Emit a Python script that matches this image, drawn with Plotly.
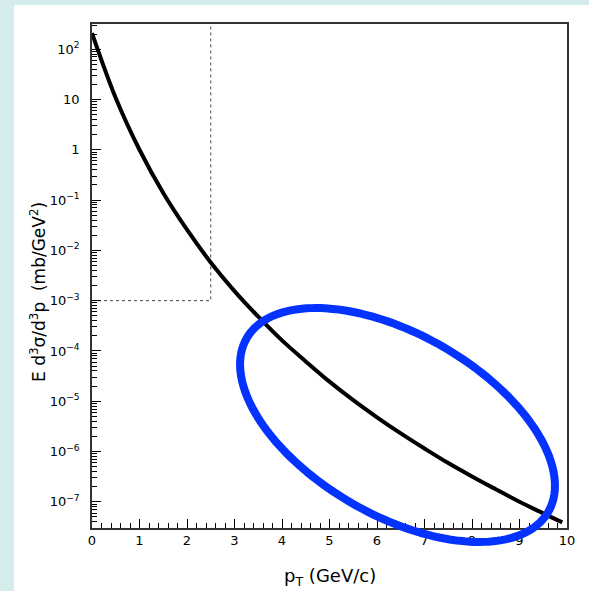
import numpy as np
import plotly.graph_objects as go

# ---- data ----
pt = [0.0, 0.5, 1.0, 1.5, 2.0, 2.5, 3.0, 3.5, 4.0, 4.5, 5.0, 5.5, 6.0,
      6.5, 7.0, 7.5, 8.0, 8.5, 9.0, 9.5, 9.9]
sigma = [209, 10.7, 1.0, 0.138, 0.0257, 0.00575, 0.00155, 4.8e-4, 1.62e-4,
         6.2e-5, 2.45e-5, 1.05e-5, 4.8e-6, 2.3e-6, 1.15e-6, 5.9e-7, 3.2e-7,
         1.78e-7, 1.0e-7, 5.9e-8, 3.9e-8]

cut_pt = 2.5
cut_sigma = 1e-3

ytick_vals = [1e2, 1e1, 1, 1e-1, 1e-2, 1e-3, 1e-4, 1e-5, 1e-6, 1e-7]
ytick_text = ["10<sup>2</sup>", "10", "1", "10<sup>−1</sup>", "10<sup>−2</sup>",
              "10<sup>−3</sup>", "10<sup>−4</sup>", "10<sup>−5</sup>",
              "10<sup>−6</sup>", "10<sup>−7</sup>"]
x_title = "p<sub>T</sub> (GeV/c)"
y_title = "E d<sup>3</sup>σ/d<sup>3</sup>p  (mb/GeV<sup>2</sup>)"

# ---- layout geometry (pixels) ----
W, H = 589, 591
L, R, T, B = 92, 22, 24, 63
PW, PH = W - L - R, H - T - B
Y_LOG_RANGE = [-7.52, 2.5]
FONT = "DejaVu Sans"

def px2paper(x, y):
    return (x - L) / PW, (H - B - y) / PH

fig = go.Figure()

# cut region (dotted)
fig.add_trace(go.Scatter(
    x=[0, cut_pt, cut_pt], y=[cut_sigma, cut_sigma, 10 ** Y_LOG_RANGE[1]],
    mode="lines", line=dict(color="#444444", width=1, dash="dot"),
    hoverinfo="skip", showlegend=False))

# spectrum curve
fig.add_trace(go.Scatter(
    x=pt, y=sigma, mode="lines", line=dict(color="black", width=4, shape="spline"),
    showlegend=False))

# blue highlight ellipse (pixel geometry -> paper coords)
cx, cy, a, b, phi = 397.5, 425.0, 174.0, 90.5, np.deg2rad(29.9)
t = np.linspace(0, 2 * np.pi, 181)
ex = cx + a * np.cos(t) * np.cos(phi) - b * np.sin(t) * np.sin(phi)
ey = cy + a * np.cos(t) * np.sin(phi) + b * np.sin(t) * np.cos(phi)
pts = [px2paper(x, y) for x, y in zip(ex, ey)]
path = "M " + " L ".join(f"{x:.5f},{y:.5f}" for x, y in pts) + " Z"

# white panel
p0 = px2paper(14, H)
p1 = px2paper(W, 5)
fig.add_shape(type="rect", xref="paper", yref="paper",
              x0=p0[0], y0=p0[1], x1=p1[0] + 0.05, y1=p1[1],
              fillcolor="white", line=dict(width=0), layer="below")
fig.add_shape(type="path", xref="paper", yref="paper", path=path,
              line=dict(color="#0433ff", width=8), layer="above")

# titles
tx, ty = px2paper(330, 577)
fig.add_annotation(xref="paper", yref="paper", x=tx, y=ty, text=x_title,
                   showarrow=False, xanchor="center", yanchor="middle",
                   font=dict(size=18, color="black", family=FONT))
ax_, ay_ = px2paper(38, 292)
fig.add_annotation(xref="paper", yref="paper", x=ax_, y=ay_, text=y_title,
                   showarrow=False, xanchor="center", yanchor="middle", textangle=-90,
                   font=dict(size=17, color="black", family=FONT))

axis_common = dict(showgrid=False, zeroline=False, showline=True, linecolor="#333333",
                   linewidth=1.5, mirror=True, ticks="inside", tickcolor="black",
                   tickwidth=1.2, tickfont=dict(size=13, color="black", family=FONT))

fig.update_xaxes(range=[0, 10], dtick=1, tick0=0, ticklen=9,
                 minor=dict(dtick=0.2, ticklen=5, ticks="inside", tickcolor="black",
                            showgrid=False),
                 **axis_common)
fig.update_yaxes(type="log", range=Y_LOG_RANGE, tickmode="array",
                 tickvals=ytick_vals, ticktext=ytick_text, ticklen=9,
                 ticklabelstandoff=8,
                 minor=dict(dtick="D1", ticklen=5, ticks="inside", tickcolor="black",
                            showgrid=False),
                 **axis_common)

fig.update_layout(width=W, height=H, margin=dict(l=L, r=R, t=T, b=B),
                  paper_bgcolor="#d4ecec", plot_bgcolor="white",
                  showlegend=False)

fig.write_html("out.html")
